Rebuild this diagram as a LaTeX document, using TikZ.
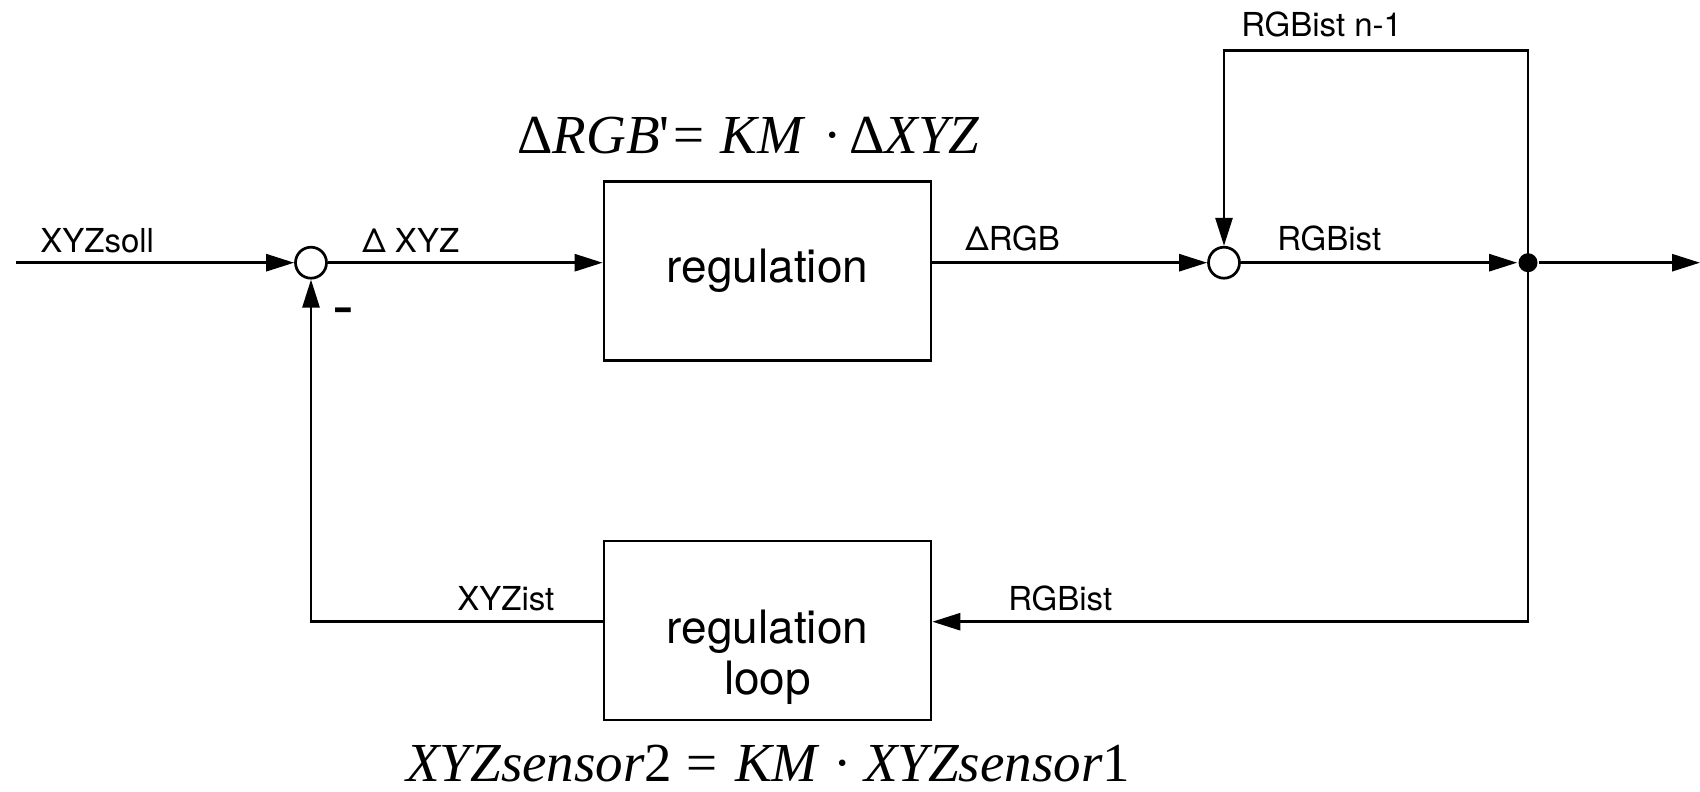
\documentclass[tikz,border=0pt]{standalone}
\usepackage{fontspec}
\setmainfont{TeX Gyre Heros}
\newfontfamily\eqrm{Liberation Serif}
\newfontfamily\eqit{Liberation Serif Italic}
\usetikzlibrary{arrows.meta}
\begin{document}
\begin{tikzpicture}[x=1pt,y=-1pt,
  line width=2.7pt,
  arr/.style={-{Triangle[length=28pt,width=17pt]}},
  block/.style={draw, minimum width=327pt, minimum height=179pt, inner sep=0pt,
    font=\fontsize{46}{51}\selectfont, align=center},
  blocktext/.style={inner sep=0pt, anchor=base, font=\fontsize{46}{51}\selectfont},
  sumpt/.style={draw, circle, minimum size=31pt, inner sep=0pt},
  dotpt/.style={circle, fill, draw=none, minimum size=19pt, inner sep=0pt},
  lbl/.style={inner sep=0pt, anchor=base west, font=\fontsize{33}{36}\selectfont},
  eq/.style={inner sep=0pt, anchor=base west, font=\eqrm\fontsize{55}{60}\selectfont}
]
\useasboundingbox (0,0) rectangle (1700,792);

% nodes
\node[sumpt] (s1) at (311,262.7) {};
\node[block] (b1) at (767.5,271.2) {regulation};
\node[sumpt] (s2) at (1224,262.7) {};
\node[dotpt] (j) at (1528,262.7) {};
\node[block] (b2) at (767.5,630.5) {};
\node[blocktext] (b2a) at (767.5,643) {regulation};
\node[blocktext] (b2b) at (767.5,694) {loop};

\coordinate (in) at (16,262.7);
\coordinate (out) at (1700,262.7);
\coordinate (tr) at (1528,50.7);
\coordinate (br) at (1528,621.7);

% connectors
\draw[arr] (in) -- (s1);
\draw[arr] (s1) -- (s1 -| b1.west);
\draw[arr] (b1.east |- s1) -- (s2);
\draw[arr] (s2) -- (j);
\draw[arr] (j) -- (out);
\draw[arr] (j.center) -- (tr) -| (s2);
\draw[arr] (j.center) -- (br) -- (br -| b2.east);
\draw[arr] (b2.west |- br) -| (s1);

% labels
\node[lbl] (l1) at (39,252) {XYZsoll};
\node[lbl] (l2) at (361,252) {Δ XYZ};
\node[lbl] (l3) at (964,250) {ΔRGB};
\node[lbl] (l4) at (1276,250) {RGBist};
\node[lbl] (l5) at (1240,36.7) {RGBist n-1};
\node[lbl] (l6) at (456,610.7) {XYZist};
\node[lbl] (l7) at (1007,610.7) {RGBist};
\node[inner sep=0pt, anchor=base, font=\fontsize{66}{66}\selectfont] (minus) at (343.5,328.6) {-};

% equations
\node[eq] (e1) at (516,153) {Δ{\eqit RGB}'\hspace{4pt}=\hspace{16pt}{\eqit KM}\hspace{20pt}·\hspace{8pt}Δ{\eqit XYZ}};
\node[eq] (e2) at (405,781) {{\eqit XYZsensor}2\hspace{14pt}=\hspace{18pt}{\eqit KM}\hspace{16pt}·\hspace{12pt}{\eqit XYZsensor}1};
\end{tikzpicture}
\end{document}
